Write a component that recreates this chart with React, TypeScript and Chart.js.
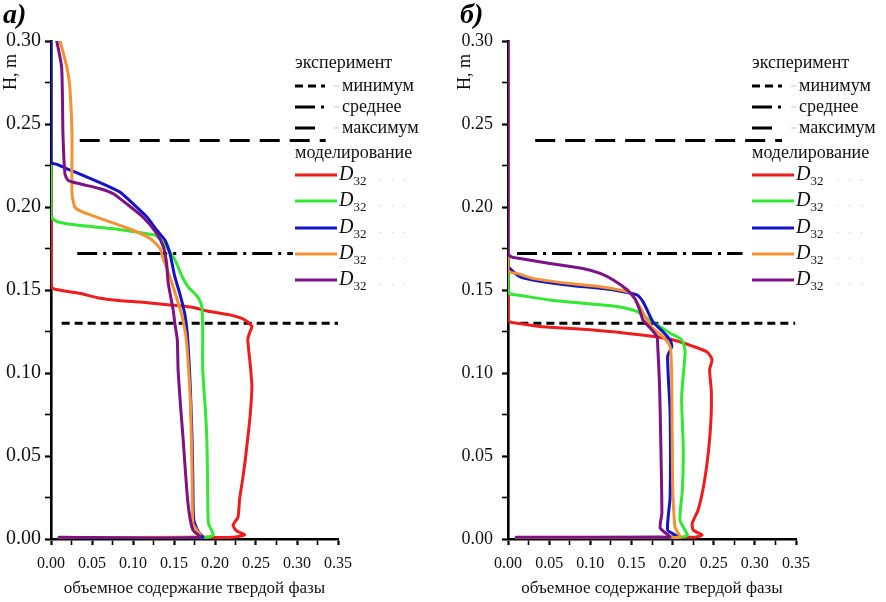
import React, { useEffect, useRef } from 'react';
import { Chart, registerables } from 'chart.js';

Chart.register(...registerables);

type Pt = [number, number]; // [объемное содержание, H]

// experimental levels (H, m)
const levelMin = 0.13;
const levelMean = 0.172;
const levelMax = 0.24;

// horizontal extent of the experimental lines, per panel
const aMinSpan = [0.013, 0.35];
const aMeanSpan = [0.032, 0.295];
const aMaxSpan = [0.035, 0.335];
const bMinSpan = [0.015, 0.349];
const bMeanSpan = [0.011, 0.285];
const bMaxSpan = [0.033, 0.333];

// panel a) profiles
const aRed: Pt[] = [
  [0, 0.3], [0, 0.153], [0.002, 0.151], [0.015, 0.1495], [0.035, 0.148], [0.06, 0.145],
  [0.085, 0.1435], [0.109, 0.1427], [0.145, 0.141], [0.17, 0.1397], [0.194, 0.137],
  [0.218, 0.135], [0.232, 0.133], [0.239, 0.131], [0.245, 0.128], [0.242, 0.124],
  [0.24, 0.12], [0.243, 0.105], [0.245, 0.092], [0.243, 0.075], [0.24, 0.061],
  [0.237, 0.048], [0.234, 0.037], [0.23, 0.024], [0.228, 0.013], [0.222, 0.0084],
  [0.226, 0.005], [0.236, 0.0025], [0.222, 0.001], [0.19, 0.001], [0.01, 0.0008],
];
const aGreen: Pt[] = [
  [0, 0.3], [0, 0.195], [0.003, 0.1925], [0.0085, 0.191], [0.033, 0.189], [0.074, 0.187],
  [0.115, 0.184], [0.127, 0.183], [0.134, 0.18], [0.139, 0.177], [0.149, 0.17],
  [0.155, 0.164], [0.16, 0.158], [0.167, 0.152], [0.175, 0.148], [0.18, 0.145],
  [0.184, 0.14], [0.185, 0.125], [0.185, 0.102], [0.188, 0.08], [0.19, 0.061],
  [0.191, 0.035], [0.192, 0.0096], [0.198, 0.0024], [0.19, 0.001], [0.01, 0.0008],
];
const aBlue: Pt[] = [
  [0, 0.3], [0, 0.227], [0.008, 0.2255], [0.0195, 0.223], [0.044, 0.218], [0.072, 0.212],
  [0.084, 0.209], [0.1, 0.202], [0.117, 0.194], [0.129, 0.186], [0.139, 0.18],
  [0.145, 0.172], [0.151, 0.158], [0.157, 0.148], [0.163, 0.136], [0.166, 0.125],
  [0.168, 0.11], [0.17, 0.09], [0.172, 0.06], [0.173, 0.035], [0.174, 0.012],
  [0.18, 0.004], [0.185, 0.001], [0.01, 0.0008],
];
const aOrange: Pt[] = [
  [0.011, 0.3], [0.0195, 0.284], [0.023, 0.272], [0.0256, 0.244], [0.0256, 0.208],
  [0.029, 0.2], [0.036, 0.1975], [0.044, 0.196], [0.072, 0.191], [0.1, 0.186],
  [0.121, 0.181], [0.133, 0.175], [0.136, 0.17], [0.145, 0.158], [0.154, 0.144],
  [0.16, 0.134], [0.164, 0.124], [0.166, 0.115], [0.17, 0.082], [0.172, 0.042],
  [0.173, 0.0096], [0.178, 0.005], [0.182, 0.0025], [0.178, 0.001], [0.01, 0.0008],
];
const aPurple: Pt[] = [
  [0.007, 0.3], [0.013, 0.284], [0.0146, 0.244], [0.017, 0.22], [0.021, 0.216],
  [0.035, 0.214], [0.06, 0.211], [0.076, 0.208], [0.092, 0.202], [0.112, 0.194],
  [0.129, 0.184], [0.137, 0.176], [0.141, 0.166], [0.143, 0.154], [0.149, 0.138],
  [0.151, 0.13], [0.154, 0.12], [0.155, 0.102], [0.158, 0.08], [0.161, 0.061],
  [0.167, 0.0217], [0.173, 0.0054], [0.182, 0.001], [0.01, 0.001],
];

// panel б) profiles
const bRed: Pt[] = [
  [0, 0.3], [0, 0.132], [0.004, 0.1305], [0.011, 0.13], [0.039, 0.128], [0.1, 0.126],
  [0.16, 0.123], [0.2, 0.12], [0.225, 0.116], [0.242, 0.1127], [0.248, 0.108],
  [0.245, 0.102], [0.247, 0.09], [0.247, 0.076], [0.245, 0.06], [0.242, 0.046],
  [0.237, 0.03], [0.231, 0.0175], [0.224, 0.0096], [0.225, 0.0054], [0.236, 0.0024],
  [0.225, 0.001], [0.01, 0.0008],
];
const bGreen: Pt[] = [
  [0, 0.3], [0, 0.15], [0.003, 0.1475], [0.011, 0.147], [0.051, 0.144], [0.091, 0.142],
  [0.132, 0.14], [0.157, 0.137], [0.169, 0.133], [0.181, 0.129], [0.197, 0.124],
  [0.211, 0.12], [0.215, 0.114], [0.215, 0.11], [0.211, 0.0855], [0.213, 0.055],
  [0.212, 0.03], [0.209, 0.0114], [0.218, 0.0024], [0.209, 0.001], [0.01, 0.0008],
];
const bBlue: Pt[] = [
  [0, 0.3], [0, 0.165], [0.002, 0.163], [0.0146, 0.158], [0.03, 0.156], [0.072, 0.153],
  [0.112, 0.151], [0.14, 0.149], [0.157, 0.147], [0.164, 0.143], [0.17, 0.137],
  [0.176, 0.131], [0.188, 0.125], [0.197, 0.12], [0.199, 0.116], [0.194, 0.11],
  [0.197, 0.076], [0.197, 0.025], [0.194, 0.0054], [0.205, 0.0018], [0.195, 0.001],
  [0.01, 0.0008],
];
const bOrange: Pt[] = [
  [0, 0.3], [0, 0.162], [0.004, 0.1605], [0.011, 0.16], [0.03, 0.157], [0.072, 0.154],
  [0.112, 0.152], [0.145, 0.149], [0.152, 0.146], [0.16, 0.14], [0.169, 0.132],
  [0.176, 0.127], [0.188, 0.122], [0.197, 0.116], [0.199, 0.096], [0.2, 0.0355],
  [0.203, 0.0072], [0.209, 0.0012], [0.2, 0.001], [0.01, 0.0008],
];
const bPurple: Pt[] = [
  [0, 0.3], [0, 0.172], [0.004, 0.17], [0.0146, 0.169], [0.051, 0.166], [0.091, 0.163],
  [0.112, 0.16], [0.128, 0.156], [0.145, 0.15], [0.154, 0.145], [0.16, 0.138],
  [0.164, 0.132], [0.173, 0.127], [0.181, 0.122], [0.182, 0.116], [0.184, 0.095],
  [0.185, 0.0759], [0.187, 0.0157], [0.185, 0.0066], [0.197, 0.0012], [0.185, 0.001],
  [0.01, 0.001],
];

const seriesColors = ['#ee1c1c', '#33e833', '#1414c4', '#f39233', '#7d1287'];
const expLabels = ['минимум', 'среднее', 'максимум'];
const expTitle = 'эксперимент';
const modTitle = 'моделирование';
const xTitle = 'объемное содержание твердой фазы';
const yTitle = 'H, m';

const SERIF = '"Liberation Serif", "Times New Roman", serif';
const dashMin = [8, 5];
const dashMean = [20, 6, 3, 6];
const dashMax = [20, 10];
const expDashes = [dashMin, dashMean, dashMax];

const decorPlugin = {
  id: 'panelDecor',
  afterDraw(chart: any, _args: any, opts: any) {
    const { ctx, chartArea } = chart;
    ctx.save();
    ctx.fillStyle = '#000';

    // panel letter
    ctx.font = `italic bold 28px ${SERIF}`;
    ctx.textBaseline = 'alphabetic';
    ctx.textAlign = 'left';
    ctx.fillText(opts.letter, opts.letterX, 23);

    // y title near the top of the axis
    ctx.save();
    ctx.translate(chartArea.left + opts.yTitleDx, chartArea.top + 31);
    ctx.rotate(-Math.PI / 2);
    ctx.font = `18px ${SERIF}`;
    ctx.textAlign = 'center';
    ctx.textBaseline = 'middle';
    ctx.fillStyle = '#111';
    ctx.fillText(yTitle, 0, 0);
    ctx.restore();

    // legend
    const x0 = chartArea.left + 244;
    const top = chartArea.top;
    ctx.textBaseline = 'middle';
    ctx.textAlign = 'left';
    ctx.font = `18px ${SERIF}`;
    ctx.fillStyle = '#111';
    ctx.fillText(expTitle, x0, top + 22);

    const expRows = [45, 66, 87];
    expRows.forEach((dy, i) => {
      const y = top + dy;
      ctx.strokeStyle = '#000';
      ctx.lineWidth = 3;
      ctx.setLineDash(expDashes[i]);
      ctx.beginPath();
      ctx.moveTo(x0, y);
      ctx.lineTo(x0 + 30, y);
      ctx.stroke();
      ctx.setLineDash([]);
      ctx.strokeStyle = '#c8c8c8';
      ctx.lineWidth = 1;
      ctx.beginPath();
      ctx.moveTo(x0 + 39, y);
      ctx.lineTo(x0 + 44, y);
      ctx.stroke();
      ctx.fillStyle = '#111';
      ctx.font = `18px ${SERIF}`;
      ctx.fillText(expLabels[i], x0 + 47, y);
    });

    ctx.fillText(modTitle, x0, top + 112);

    const modRows = [134, 160, 187, 213, 239];
    modRows.forEach((dy, i) => {
      const y = top + dy;
      ctx.strokeStyle = seriesColors[i];
      ctx.lineWidth = 3;
      ctx.beginPath();
      ctx.moveTo(x0, y);
      ctx.lineTo(x0 + 42, y);
      ctx.stroke();
      ctx.fillStyle = '#111';
      ctx.font = `italic 20px ${SERIF}`;
      ctx.fillText('D', x0 + 44, y);
      const dw = ctx.measureText('D').width;
      ctx.font = `13px ${SERIF}`;
      ctx.fillText('32', x0 + 44 + dw, y + 7);
      ctx.fillStyle = '#c8c8c8';
      ctx.font = `11px ${SERIF}`;
      ctx.fillText('·   ·   ·', x0 + 84, y + 5);
    });
    ctx.restore();
  },
};

interface PanelProps {
  left: number;
  letter: string;
  letterX: number;
  yAxisWidth: number;
  padRight: number;
  yTickSize: number;
  yTickPad: number;
  yTitleDx: number;
  curves: Pt[][];
  minSpan: number[];
  meanSpan: number[];
  maxSpan: number[];
}

const Panel: React.FC<PanelProps> = (p) => {
  const canvasRef = useRef<HTMLCanvasElement>(null);

  useEffect(() => {
    const ctx = canvasRef.current?.getContext('2d');
    if (!ctx) return;

    const level = (span: number[], h: number) => span.map((x) => ({ x, y: h }));
    const refLines = [
      { data: level(p.minSpan, levelMin), dash: dashMin },
      { data: level(p.meanSpan, levelMean), dash: dashMean },
      { data: level(p.maxSpan, levelMax), dash: dashMax },
    ].map((r) => ({
      data: r.data,
      showLine: true,
      borderColor: '#000',
      borderWidth: 3,
      borderDash: r.dash,
      pointRadius: 0,
    }));

    const curveSets = p.curves.map((pts, i) => ({
      data: pts.map(([x, y]) => ({ x, y })),
      showLine: true,
      borderColor: seriesColors[i],
      borderWidth: 3,
      borderJoinStyle: 'round' as const,
      borderCapStyle: 'round' as const,
      pointRadius: 0,
      tension: 0.2,
    }));

    // Chart.js paints dataset 0 last (on top): purple on top, reference lines below
    const datasets = [...curveSets.reverse(), ...refLines];

    const tickFont = { family: SERIF, size: 16 };

    const chart = new Chart(ctx, {
      type: 'scatter',
      data: { datasets: datasets as any },
      plugins: [decorPlugin],
      options: {
        animation: false,
        responsive: true,
        maintainAspectRatio: false,
        layout: { padding: { top: 41, right: p.padRight, left: 0, bottom: 0 } },
        plugins: {
          legend: { display: false },
          tooltip: { enabled: false },
          panelDecor: { letter: p.letter, letterX: p.letterX, yTitleDx: p.yTitleDx },
        } as any,
        scales: {
          x: {
            type: 'linear',
            min: 0,
            max: 0.35,
            afterFit: (s: any) => {
              s.height = 63;
            },
            ticks: {
              stepSize: 0.025,
              autoSkip: false,
              maxRotation: 0,
              color: '#111',
              font: tickFont,
              padding: 9,
              callback: (v: any, i: number) => (i % 2 === 0 ? Number(v).toFixed(2) : ''),
            },
            grid: {
              display: true,
              drawOnChartArea: false,
              drawTicks: true,
              tickLength: 6,
              tickColor: '#000',
              tickWidth: (c: any) => (c.index % 2 ? 1.6 : 2.2),
            },
            border: { display: true, color: '#000', width: 2.6 },
            title: {
              display: true,
              text: xTitle,
              color: '#111',
              font: { family: SERIF, size: 17 },
              padding: { top: 0, bottom: 3 },
            },
          },
          y: {
            type: 'linear',
            min: 0,
            max: 0.3,
            afterFit: (s: any) => {
              s.width = p.yAxisWidth;
            },
            ticks: {
              stepSize: 0.025,
              autoSkip: false,
              color: '#111',
              font: { family: SERIF, size: p.yTickSize },
              padding: p.yTickPad,
              callback: (v: any, i: number) => (i % 2 === 0 ? Number(v).toFixed(2) : ''),
            },
            grid: {
              display: true,
              drawOnChartArea: false,
              drawTicks: true,
              tickLength: 6,
              tickColor: '#000',
              tickWidth: (c: any) => (c.index % 2 ? 1.6 : 2.2),
            },
            border: { display: true, color: '#000', width: 2.6 },
            title: { display: false },
          },
        },
      },
    });

    return () => {
      chart.destroy();
    };
  }, []);

  return (
    <div style={{ position: 'absolute', left: p.left, top: 0, width: 443, height: 602 }}>
      <canvas ref={canvasRef} />
    </div>
  );
};

const App: React.FC = () => {
  return (
    <div
      style={{
        position: 'fixed',
        left: 0,
        top: 0,
        width: 886,
        height: 602,
        background: '#fff',
        overflow: 'hidden',
      }}
    >
      <Panel
        left={0}
        letter="а)"
        letterX={3}
        yAxisWidth={51}
        padRight={105}
        yTickSize={20}
        yTickPad={4}
        yTitleDx={-40}
        curves={[aRed, aGreen, aBlue, aOrange, aPurple]}
        minSpan={aMinSpan}
        meanSpan={aMeanSpan}
        maxSpan={aMaxSpan}
      />
      <Panel
        left={443}
        letter="б)"
        letterX={17}
        yAxisWidth={65}
        padRight={90}
        yTickSize={18}
        yTickPad={9}
        yTitleDx={-43}
        curves={[bRed, bGreen, bBlue, bOrange, bPurple]}
        minSpan={bMinSpan}
        meanSpan={bMeanSpan}
        maxSpan={bMaxSpan}
      />
    </div>
  );
};

export default App;
